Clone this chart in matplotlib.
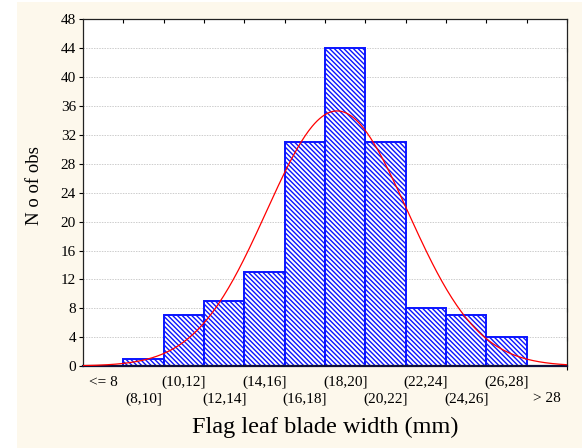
import numpy as np
import matplotlib.pyplot as plt
from matplotlib.patches import Rectangle

plt.rcParams['font.family'] = ['Liberation Serif', 'DejaVu Serif']
plt.rcParams['hatch.linewidth'] = 1.0

# Frequency table of flag leaf blade width
categories = ['<= 8', '(8,10]', '(10,12]', '(12,14]', '(14,16]', '(16,18]',
              '(18,20]', '(20,22]', '(22,24]', '(24,26]', '(26,28]', '> 28']
counts = [0, 1, 7, 9, 13, 31, 44, 31, 8, 7, 4, 0]

# Fitted normal curve parameters (mm)
fit_mean = 18.6
fit_sd = 3.5
class_width = 2.0
first_lower = 6.0  # lower edge of the "<= 8" class on the mm scale

yticks = list(range(0, 49, 4))

n_total = sum(counts)
n_cat = len(categories)

fig = plt.figure(figsize=(5.82, 4.48), dpi=100, facecolor='white')
fig.patches.append(Rectangle((17 / 582, 0), 1 - 17 / 582, 1 - 2 / 448,
                             transform=fig.transFigure, facecolor='#fdf8ec',
                             edgecolor='none', zorder=-5))

ax = fig.add_axes([83 / 582, 1 - 366 / 448, 484 / 582, 346.5 / 448])
ax.set_facecolor('white')

pos = np.arange(n_cat) + 0.5
ax.bar(pos, counts, width=1.0, facecolor='white', edgecolor='#0a14ff',
       hatch='\\' * 7, linewidth=1.4, zorder=2)

# Normal curve scaled to counts per class
u = np.linspace(0, n_cat, 400)
mm = first_lower + class_width * u
curve = n_total * class_width / (fit_sd * np.sqrt(2 * np.pi)) * \
    np.exp(-((mm - fit_mean) ** 2) / (2 * fit_sd ** 2))
ax.plot(u, curve, color='#ff0000', linewidth=0.9, zorder=3)

ax.set_xlim(0, n_cat)
ax.set_ylim(0, 48)
ax.set_yticks(yticks)
ax.tick_params(axis='y', direction='out', length=3, width=0.8,
               labelsize=11, pad=2, right=True)
for t in ax.yaxis.get_major_ticks():
    t.tick2line.set_marker(3)  # inward tick on the right spine

for y in yticks[1:-1]:
    ax.axhline(y, color='#cdcdcd', linewidth=0.7, linestyle=(0, (1.5, 1.2)),
               zorder=1)

# Staggered category labels
ax.set_xticks(pos[::2], categories[::2])
ax.set_xticks(pos[1::2], categories[1::2], minor=True)
ax.tick_params(axis='x', which='major', length=0, labelsize=11, pad=7)
ax.tick_params(axis='x', which='minor', length=0, labelsize=11, pad=19)

# Class boundary ticks along the top edge
top = ax.secondary_xaxis('top')
top.set_xticks(np.arange(1, n_cat))
top.tick_params(direction='in', length=3, width=0.8, labeltop=False)
top.spines['top'].set_visible(False)

for s in ['left', 'top', 'right']:
    ax.spines[s].set_color('#222222')
    ax.spines[s].set_linewidth(0.9)
ax.spines['bottom'].set_color('#10103a')
ax.spines['bottom'].set_linewidth(1.6)

ax.set_ylabel('N o of obs', fontsize=13.5)
ax.yaxis.set_label_coords(-0.082, 0.52)
ax.set_xlabel('Flag leaf blade width (mm)', fontsize=17.5)
ax.xaxis.set_label_coords(0.5, -0.147)

fig.savefig('out.png', dpi=100, facecolor=fig.get_facecolor())
